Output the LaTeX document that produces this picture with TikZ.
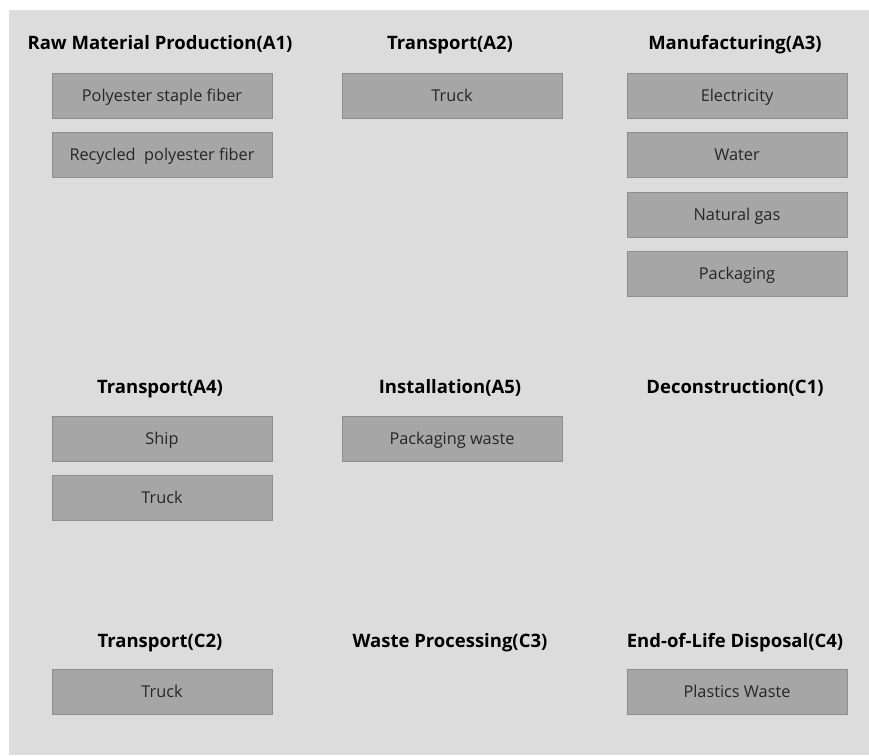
\documentclass[tikz,border=0pt]{standalone}
\usepackage{fontspec}
\setmainfont{Open Sans}
\usetikzlibrary{positioning}
\definecolor{panelgray}{HTML}{DCDCDC}
\definecolor{boxgray}{HTML}{A6A6A6}
\definecolor{edgegray}{HTML}{8E8E8E}

\begin{document}
\begin{tikzpicture}[x=1pt,y=-1pt,
  head/.style={font=\fontsize{18.5}{21}\selectfont\bfseries, text=black, text height=13.2pt, text depth=0pt},
  item/.style={draw=edgegray, fill=boxgray, minimum width=220pt, minimum height=45pt, inner sep=0pt, text height=11.6pt, text depth=0pt, font=\fontsize{16.3}{19}\selectfont, text=black!85}]
\useasboundingbox (0,0) rectangle (869,755);
\fill[panelgray] (9,10) rectangle (869,755);
% first row
\node[head] (rawA1) at (160,42.5) {Raw Material Production(A1)};
\node[head] (transA2) at (450,42.5) {Transport(A2)};
\node[head] (manuA3) at (735,42.5) {Manufacturing(A3)};
\node[item] (psf) at (162,95.5) {Polyester staple fiber};
\node[item, below=14pt of psf] (rpf) {Recycled\ \ polyester fiber};
\node[item] (truckA2) at (452,95.5) {Truck};
\node[item] (elec) at (737,95.5) {Electricity};
\node[item, below=14pt of elec] (water) {Water};
\node[item, below=14pt of water] (gas) {Natural gas};
\node[item, below=14pt of gas] (pack) {Packaging};
% second row
\node[head] (transA4) at (160,386.5) {Transport(A4)};
\node[head] (instA5) at (450,386.5) {Installation(A5)};
\node[head] (deconC1) at (735,386.5) {Deconstruction(C1)};
\node[item] (ship) at (162,438.5) {Ship};
\node[item, below=14pt of ship] (truckA4) {Truck};
\node[item] (packwaste) at (452,438.5) {Packaging waste};
% third row
\node[head] (transC2) at (160,640.5) {Transport(C2)};
\node[head] (wasteC3) at (450,640.5) {Waste Processing(C3)};
\node[head] (eolC4) at (735,640.5) {End-of-Life Disposal(C4)};
\node[item] (truckC2) at (162,691.5) {Truck};
\node[item] (plastic) at (737,691.5) {Plastics Waste};
\end{tikzpicture}
\end{document}
